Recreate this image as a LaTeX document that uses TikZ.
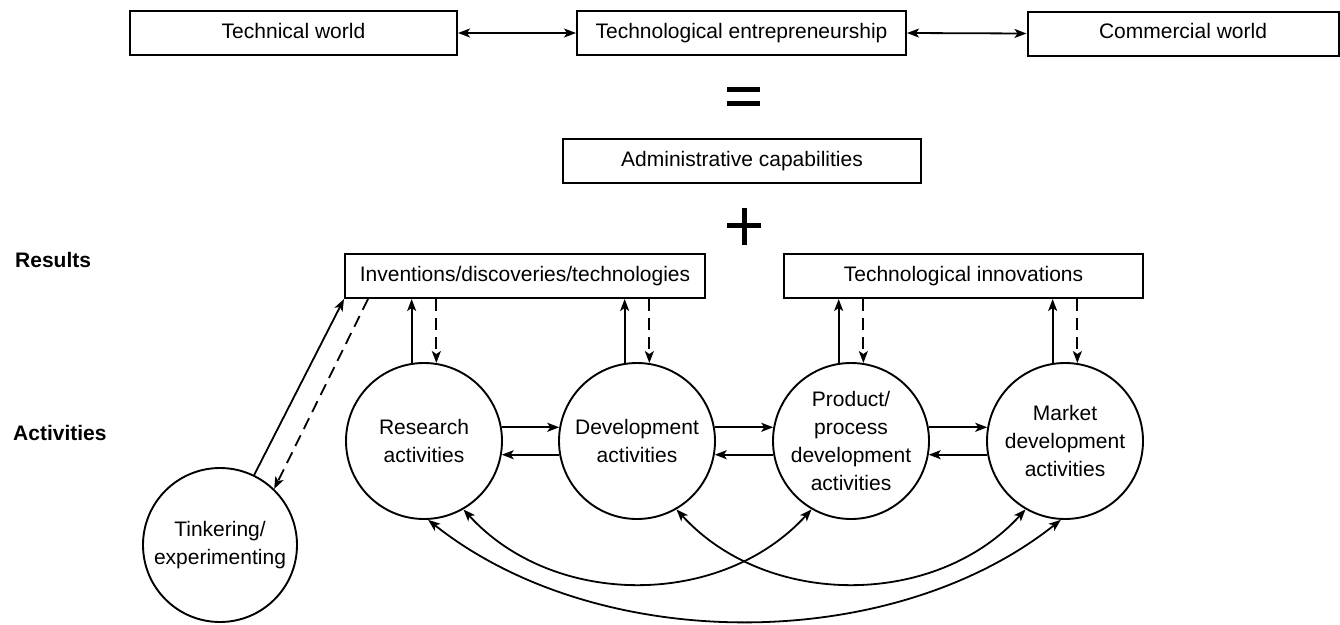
\documentclass[tikz,border=0pt]{standalone}
\usepackage{fontspec}
\setmainfont{Liberation Sans}
\usetikzlibrary{arrows.meta,calc}
\begin{document}
\begin{tikzpicture}[x=1pt,y=-1pt,
  box/.style={draw, line width=2pt, rectangle, inner sep=0pt, minimum height=44pt, text height=15pt, text depth=4.5pt, font=\fontsize{21}{28}\selectfont},
  act/.style={draw, circle, line width=1.9pt, minimum size=156pt, inner sep=0pt, align=center, font=\fontsize{21}{28}\selectfont},
  lbl/.style={font=\fontsize{21}{28}\selectfont\bfseries, anchor=west, inner sep=0pt},
  con/.style={line width=1.8pt, -{Stealth[length=12pt,width=9pt,inset=3pt]}},
  dcon/.style={con, dash pattern=on 12pt off 7pt},
  biarr/.style={line width=1.8pt, {Stealth[length=12pt,width=9pt,inset=3pt]}-{Stealth[length=12pt,width=9pt,inset=3pt]}},
  sign/.style={line width=5pt}
]
\useasboundingbox (0,0) rectangle (1340,624);

% top row
\node[box, minimum width=327pt] (tw) at (293.5,33) {Technical world};
\node[box, minimum width=329pt] (te) at (741.5,33) {Technological entrepreneurship};
\node[box, minimum width=311pt] (cw) at (1183,33.5) {Commercial world};
\draw[biarr] (tw.east) -- (te.west);
\draw[biarr] (te.east) -- (cw.west);

% equals
\draw[sign] (727,89) -- (760,89);
\draw[sign] (727,103) -- (760,103);

\node[box, minimum width=358pt] (ac) at (742,161) {Administrative capabilities};

% plus
\draw[sign] (727,225) -- (761,225);
\draw[sign] (744,208) -- (744,245);

% labels
\node[lbl] (res) at (15,260) {Results};
\node[lbl] (actl) at (13,433) {Activities};

% result boxes
\node[box, minimum width=360pt] (inv) at (525,276) {Inventions/discoveries/technologies};
\node[box, minimum width=359pt] (inn) at (963.5,276) {Technological innovations};

% activities
\node[act] (R) at (424,441) {Research\\activities};
\node[act] (D) at (637,441) {Development\\activities};
\node[act] (P) at (851,441) {Product/\\process\\development\\activities};
\node[act] (M) at (1065,441) {Market\\development\\activities};
\node[act, minimum size=154pt] (T) at (220,545) {Tinkering/\\experimenting};

% vertical links
\draw[con] (R.99) -- (R.99 |- inv.south);
\draw[dcon] (R.81 |- inv.south) -- (R.81);
\draw[con] (D.99) -- (D.99 |- inv.south);
\draw[dcon] (D.81 |- inv.south) -- (D.81);
\draw[con] (P.99) -- (P.99 |- inn.south);
\draw[dcon] (P.81 |- inn.south) -- (P.81);
\draw[con] (M.99) -- (M.99 |- inn.south);
\draw[dcon] (M.81 |- inn.south) -- (M.81);

% tinkering links
\coordinate (invd) at ($(inv.south west)+(24,0)$);
\draw[con] (T.64) -- (inv.south west);
\draw[dcon] (invd) -- (T.46);

% horizontal links
\draw[con] (R.10) -- (D.170);
\draw[con] (D.190) -- (R.-10);
\draw[con] (D.10) -- (P.170);
\draw[con] (P.190) -- (D.-10);
\draw[con] (P.10) -- (M.170);
\draw[con] (M.190) -- (P.-10);

% bottom curves
\draw[biarr] (R.-60) .. controls +(90,99) and +(-90,99) .. (P.-120);
\draw[biarr] (D.-60) .. controls +(90,99) and +(-90,99) .. (M.-120);
\draw[biarr] (R.-87) .. controls +(170,135) and +(-170,135) .. (M.-93);
\end{tikzpicture}
\end{document}
